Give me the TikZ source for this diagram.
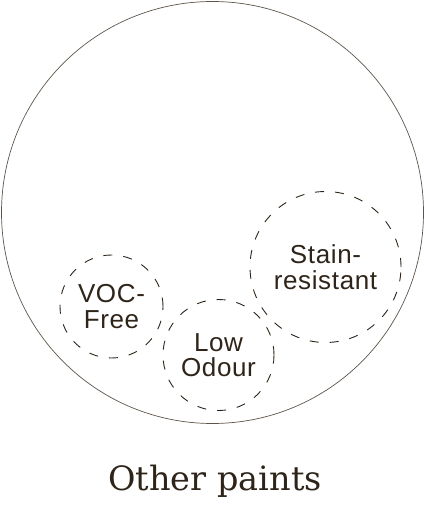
\documentclass[tikz,border=0pt]{standalone}
\usepackage{fontspec}
\setmainfont{DejaVu Serif}
\newfontfamily\labelfont[LetterSpace=2.5]{Liberation Sans}
\definecolor{ink}{HTML}{2E2419}
\definecolor{rim}{HTML}{5E544B}
\begin{document}
\begin{tikzpicture}[x=1pt,y=-1pt,
  outer/.style={draw=rim, line width=0.7pt, circle, inner sep=0pt},
  feature/.style={draw=ink, line width=0.9pt, dash pattern=on 9pt off 11pt, circle, inner sep=0pt,
    align=center, text=ink, font=\labelfont\fontsize{26}{25.5}\selectfont},
  caption/.style={text=ink, font=\fontsize{33.5}{38}\selectfont, anchor=base, inner sep=0pt}]
\useasboundingbox (0,0) rectangle (425,505);
\node[outer, minimum size=422pt] (all) at (212.5,212.5) {};
\node[feature, minimum size=103pt] (voc) at (111.5,306.5) {VOC-\\Free};
\node[feature, minimum size=111pt] (low) at (218.5,355) {Low\\Odour};
\node[feature, minimum size=151pt] (stain) at (325.5,267) {Stain-\\resistant};
\node[caption] (title) at (215,490) {Other paints};
\end{tikzpicture}
\end{document}
